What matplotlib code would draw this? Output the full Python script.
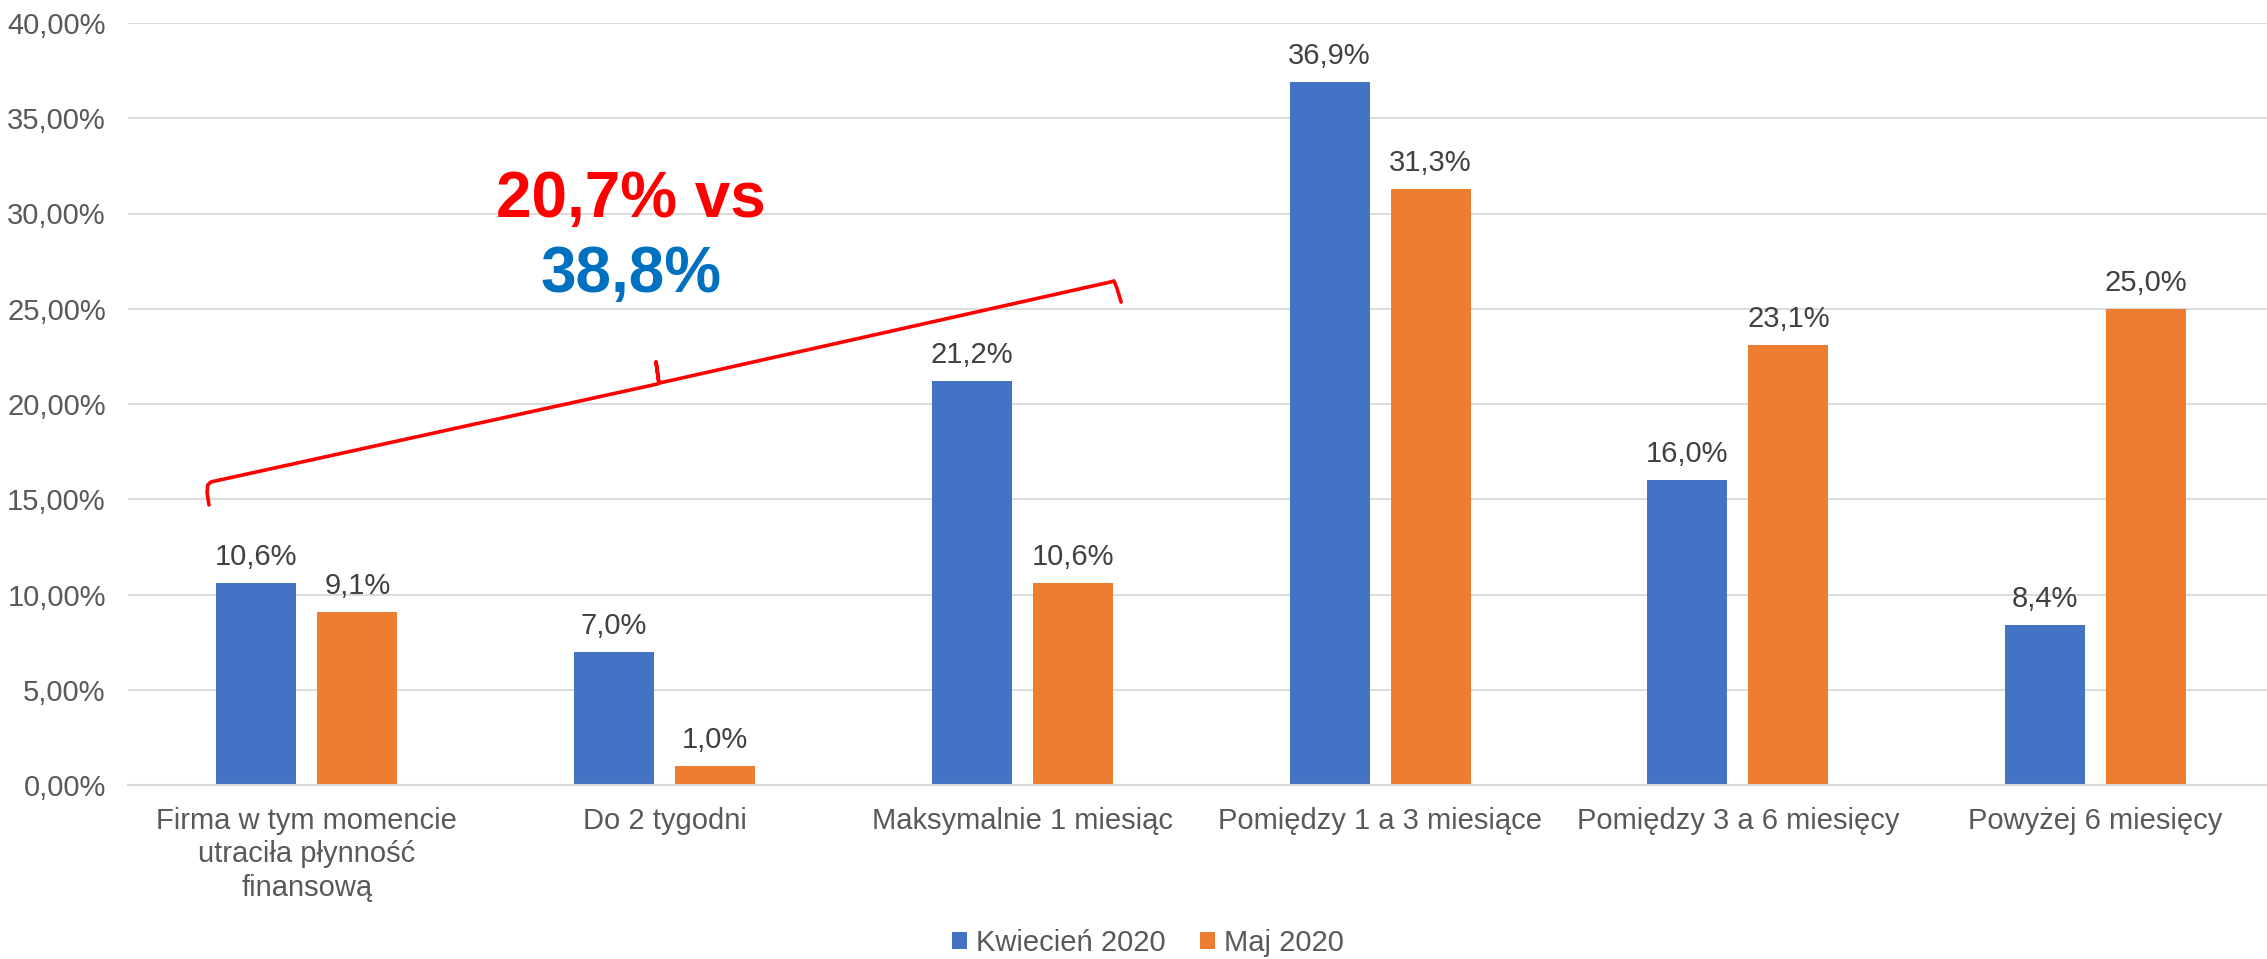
import matplotlib
matplotlib.use("Agg")
import matplotlib.pyplot as plt
from matplotlib.patches import Patch
import numpy as np

plt.rcParams['font.family'] = ['Liberation Sans', 'DejaVu Sans']

categories = ["Firma w tym momencie\nutraciła płynność\nfinansową", "Do 2 tygodni",
              "Maksymalnie 1 miesiąc", "Pomiędzy 1 a 3 miesiące",
              "Pomiędzy 3 a 6 miesięcy", "Powyżej 6 miesięcy"]
series_names = ["Kwiecień 2020", "Maj 2020"]
kwiecien = [10.6, 7.0, 21.2, 36.9, 16.0, 8.4]
maj = [9.1, 1.0, 10.6, 31.3, 23.1, 25.0]
yticks = [0, 5, 10, 15, 20, 25, 30, 35, 40]
note_line1 = "20,7% vs"
note_line2 = "38,8%"

# brace annotation path (data coordinates)
brace_x = [-0.2736, -0.2790, -0.2770, -0.2680, 0.980, 0.984, 0.976, 0.984, 0.990, 2.245, 2.256, 2.264, 2.276]
brace_y = [14.70, 15.35, 15.75, 15.91, 21.05, 21.10, 22.20, 21.10, 21.12, 26.40, 26.46, 26.10, 25.35]

BLUE = "#4472C4"
ORANGE = "#ED7D31"
GRID = "#D9D9D9"
TICK = "#595959"
LABEL = "#404040"

fig = plt.figure(figsize=(22.67, 9.59), dpi=100)
ax = fig.add_axes([128/2267, 1-785/959, 6*357.75/2267, 762/959])

x = np.arange(len(categories))
w = 0.2236
off = 0.141
b1 = ax.bar(x - off, kwiecien, w, color=BLUE, zorder=3)
b2 = ax.bar(x + off, maj, w, color=ORANGE, zorder=3)

def fmt(v):
    return f"{v:.1f}%".replace(".", ",")

for bars, vals in ((b1, kwiecien), (b2, maj)):
    for r, v in zip(bars, vals):
        ax.annotate(fmt(v), (r.get_x() + r.get_width()/2, v), xytext=(0, 8.5),
                    textcoords="offset points", ha="center", va="bottom",
                    fontsize=21, color=LABEL)

ax.set_xlim(-0.5, len(categories) - 0.5)
ax.set_ylim(0, 40)
ax.set_yticks(yticks)
ax.set_yticklabels([f"{t:.2f}%".replace(".", ",") for t in yticks])
ax.set_xticks(x)
ax.set_xticklabels(categories, linespacing=1.26)
ax.tick_params(axis="y", length=0, pad=16, labelsize=21, labelcolor=TICK)
ax.tick_params(axis="x", length=0, pad=15.5, labelsize=21, labelcolor=TICK)
ax.grid(axis="y", color=GRID, linewidth=1.3, zorder=0)
for s in ("top", "right", "left"):
    ax.spines[s].set_visible(False)
ax.spines["bottom"].set_color(GRID)
ax.spines["bottom"].set_linewidth(1.5)
ax.spines["bottom"].set_zorder(4)

ax.plot(brace_x, brace_y, color="#FF0000", linewidth=2.6, solid_capstyle="round",
        solid_joinstyle="round", zorder=5, clip_on=False)
ax.text(0.906, 29.82, note_line1, color="#FF0000", fontsize=46, fontweight="bold",
        ha="center", va="baseline", zorder=6)
ax.text(0.906, 25.88, note_line2, color="#0070C0", fontsize=46, fontweight="bold",
        ha="center", va="baseline", zorder=6)

handles = [Patch(facecolor=BLUE, label=series_names[0]),
           Patch(facecolor=ORANGE, label=series_names[1])]
leg = fig.legend(handles=handles, loc="center", bbox_to_anchor=(1148/2267, 1-943/959),
                 ncol=2, frameon=False, fontsize=21, handlelength=0.5, handleheight=0.5,
                 handletextpad=0.3, columnspacing=1.2)
for t in leg.get_texts():
    t.set_color(TICK)

fig.savefig("out.png", dpi=100)
